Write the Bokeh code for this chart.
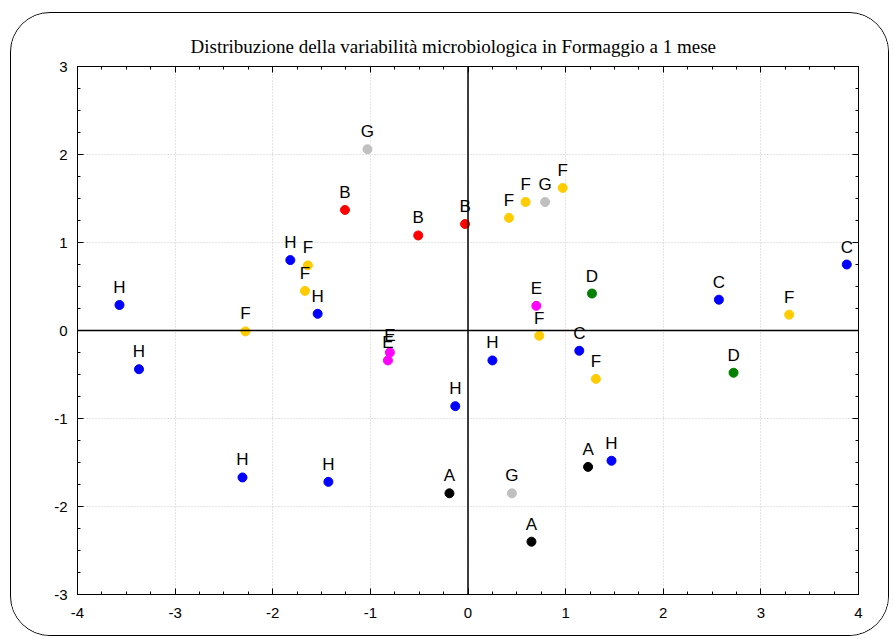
from bokeh.plotting import figure
from bokeh.models import (ColumnDataSource, LinearAxis, SingleIntervalTicker, Span,
                          Range1d, PrintfTickFormatter, CustomJSTickFormatter)
from bokeh.embed import file_html
from bokeh.resources import INLINE
from bokeh.core.properties import value

title_text = "Distribuzione della variabilità microbiologica in Formaggio a 1 mese"

groups = ["H", "H", "F", "H", "H", "H", "F", "F", "H", "G",
          "B", "B", "B", "E", "E", "H", "A", "H", "G", "A",
          "F", "F", "G", "F", "E", "F", "D", "C", "F", "A",
          "H", "C", "D", "F", "C"]
xs = [-3.57, -3.37, -2.28, -2.31, -1.43, -1.82, -1.64, -1.67, -1.54, -1.03,
      -1.26, -0.51, -0.03, -0.80, -0.82, -0.13, -0.19, 0.25, 0.45, 0.65,
      0.42, 0.59, 0.79, 0.97, 0.70, 0.73, 1.27, 1.14, 1.31, 1.23,
      1.47, 2.57, 2.72, 3.29, 3.88]
ys = [0.29, -0.44, -0.01, -1.67, -1.72, 0.80, 0.74, 0.45, 0.19, 2.06,
      1.37, 1.08, 1.21, -0.25, -0.34, -0.86, -1.85, -0.34, -1.85, -2.40,
      1.28, 1.46, 1.46, 1.62, 0.28, -0.06, 0.42, -0.23, -0.55, -1.55,
      -1.48, 0.35, -0.48, 0.18, 0.75]

group_colors = {"A": "#000000", "B": "#ff0000", "C": "#0000ff", "D": "#008000",
                "E": "#ff00ff", "F": "#ffcc00", "G": "#c0c0c0", "H": "#0000ff"}

x_range = (-4, 4)
y_range = (-3, 3)

src = ColumnDataSource(dict(x=xs, y=ys, label=groups,
                            color=[group_colors[g] for g in groups]))

p = figure(width=879, height=624, output_backend="svg", toolbar_location=None,
           x_range=Range1d(*x_range), y_range=Range1d(*y_range),
           min_border_left=66, min_border_right=32, min_border_top=53,
           min_border_bottom=43, background_fill_color="white",
           border_fill_color="white")
p.margin = (12, 0, 0, 10)
p.styles = {"border": "1px solid black", "border-radius": "40px",
            "overflow": "hidden"}

p.title.text = title_text
p.title.text_font = "Liberation Serif"
p.title.text_font_size = "19px"
p.title.text_font_style = "normal"
p.title.text_color = "black"
p.title.align = "left"
p.title.offset = 113
p.title.standoff = 19

p.outline_line_color = "black"
p.outline_line_width = 1

for ax in [p.xaxis[0], p.yaxis[0]]:
    ax.ticker = SingleIntervalTicker(interval=1, num_minor_ticks=4)
    ax.formatter = PrintfTickFormatter(format="%d")
    ax.major_tick_in = 6
    ax.major_tick_out = 0
    ax.minor_tick_in = 3
    ax.minor_tick_out = 0
    ax.axis_line_color = "black"
    ax.major_label_text_font = "Liberation Sans"
    ax.major_label_text_font_size = "15px"
    ax.major_label_text_color = "black"
p.xaxis[0].major_label_standoff = 13
p.yaxis[0].major_label_standoff = 10

for loc in ["above", "right"]:
    a = LinearAxis(ticker=SingleIntervalTicker(interval=1, num_minor_ticks=4),
                   formatter=CustomJSTickFormatter(code="return ''"),
                   major_tick_in=6, major_tick_out=0, minor_tick_in=3,
                   minor_tick_out=0, major_label_standoff=0,
                   axis_line_color="black")
    p.add_layout(a, loc)

p.xgrid.ticker = SingleIntervalTicker(interval=1)
p.ygrid.ticker = SingleIntervalTicker(interval=1)
p.grid.grid_line_color = "#c8c8c8"
p.grid.grid_line_dash = "1 2"
p.grid.grid_line_width = 1

p.add_layout(Span(location=0, dimension="height", line_color="black", line_width=1.5))
p.add_layout(Span(location=0, dimension="width", line_color="black", line_width=1.5))

p.scatter("x", "y", source=src, size=9, fill_color="color", line_color="color")
p.text("x", "y", text="label", source=src, text_align="center",
       text_baseline="bottom", y_offset=-8, text_font=value("Liberation Sans"),
       text_font_size="17px", text_color="black")

open("out.html", "w").write(file_html(p, INLINE))
